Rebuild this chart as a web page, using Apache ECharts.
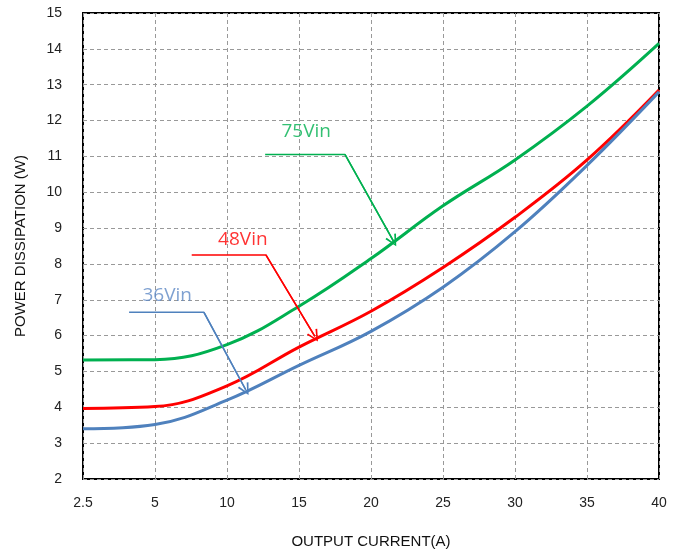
<!DOCTYPE html>
<html><head><meta charset="utf-8">
<script src="https://cdn.jsdelivr.net/npm/echarts@6/dist/echarts.min.js"></script>
<style>html,body{margin:0;padding:0;background:#fff}#c{width:686px;height:554px}</style>
</head><body><div id="c"></div>
<script>
var categories = ['2.5','5','10','15','20','25','30','35','40'];
var v75 = [5.32, 5.33, 5.75, 6.82, 8.15, 9.62, 10.9, 12.4, 14.15];
var v48 = [3.97, 4.02, 4.6, 5.68, 6.68, 7.9, 9.3, 10.9, 12.85];
var v36 = [3.4, 3.52, 4.2, 5.17, 6.12, 7.35, 8.9, 10.75, 12.8];
// annotation leader lines, in (category-index, W) units
var ann75 = [[2.53, 11.05], [3.64, 11.05], [4.31, 8.64]];
var ann48 = [[1.51, 8.25], [2.54, 8.25], [3.22, 5.98]];
var ann36 = [[0.64, 6.65], [1.68, 6.65], [2.26, 4.49]];
var annText = [['75Vin', 3.1, 11.68], ['48Vin', 2.22, 8.67], ['36Vin', 1.17, 7.12]];

var GREEN = '#00B050', RED = '#FF0000', BLUE = '#4F81BD';
var chevron = 'path://M5,0 L10,10 L8.6,10.6 L5,2.6 L1.4,10.6 L0,10 Z';

function curve(name, data, color) {
  return { name: name, type: 'line', data: data, smooth: 0.4,
    showSymbol: false, symbol: 'none', lineStyle: { color: color, width: 3 }, z: 3 };
}
function leader(pts, color) {
  return { type: 'line', xAxisIndex: 1, data: pts, showSymbol: false, symbol: 'none',
    lineStyle: { color: color, width: 1.5 }, z: 4,
    markLine: { silent: true, symbol: ['none', chevron], symbolSize: [12, 12],
      lineStyle: { color: color, width: 1.5, type: 'solid' }, label: { show: false },
      data: [[{ coord: pts[1] }, { coord: pts[2] }]] } };
}
function label(t, color) {
  return { type: 'scatter', xAxisIndex: 1, data: [[t[1], t[2]]], symbolSize: 0, z: 5,
    label: { show: true, position: 'inside', formatter: t[0], color: color,
      fontSize: 19, fontFamily: 'Open Sans' } };
}
var chart = echarts.init(document.getElementById('c'));
chart.setOption({
  animation: false,
  grid: { left: 83, right: 27, top: 13, bottom: 71, show: true, borderColor: '#000', borderWidth: 2, backgroundColor: 'transparent' },
  xAxis: [{
    type: 'category', data: categories, boundaryGap: false,
    name: 'OUTPUT CURRENT(A)', nameLocation: 'middle', nameGap: 55,
    nameTextStyle: { fontSize: 15, color: '#111', fontFamily: 'Liberation Sans' },
    axisLine: { show: false }, axisTick: { show: false },
    axisLabel: { margin: 17, fontSize: 14, color: '#222', fontFamily: 'Liberation Sans' },
    splitLine: { show: true, lineStyle: { color: '#999', type: [4, 3], width: 1 } }
  }, {
    type: 'value', min: 0, max: 8, show: false, splitLine: { show: false }
  }],
  yAxis: {
    type: 'value', min: 2, max: 15, interval: 1,
    name: 'POWER DISSIPATION (W)', nameLocation: 'middle', nameGap: 55,
    nameTextStyle: { fontSize: 15, color: '#111', fontFamily: 'Liberation Sans' },
    axisLine: { show: false }, axisTick: { show: false },
    axisLabel: { margin: 21, fontSize: 14, color: '#222', fontFamily: 'Liberation Sans' },
    splitLine: { show: true, lineStyle: { color: '#999', type: [4, 3], width: 1 } }
  },
  series: [
    curve('75Vin', v75, GREEN), curve('48Vin', v48, RED), curve('36Vin', v36, BLUE),
    leader(ann75, GREEN), leader(ann48, RED), leader(ann36, BLUE),
    label(annText[0], GREEN), label(annText[1], RED), label(annText[2], '#5F89C6')
  ]
});
</script></body></html>
